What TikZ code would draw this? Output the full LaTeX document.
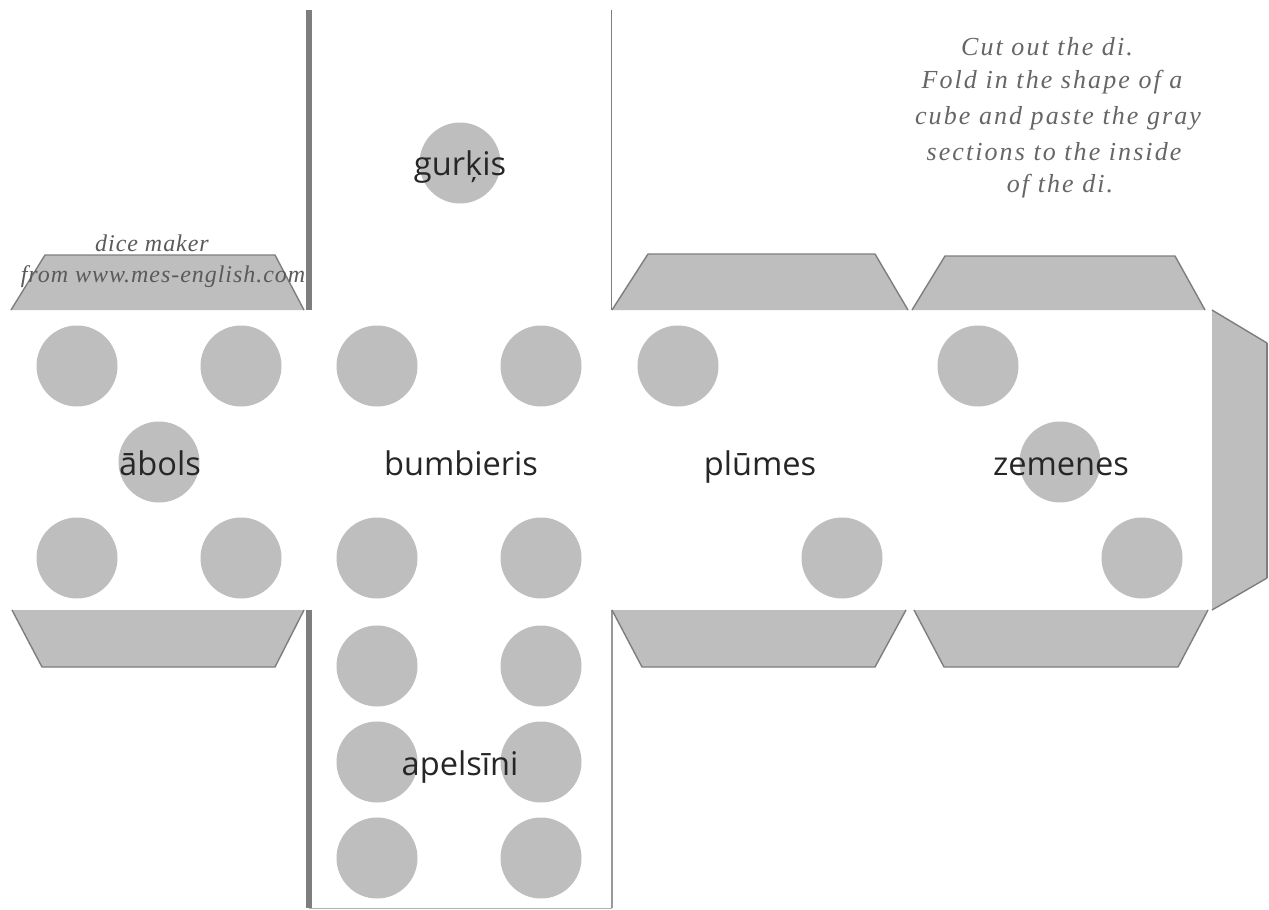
\documentclass[tikz,border=0pt]{standalone}
\usepackage{fontspec}
\setmainfont{Open Sans}
\newfontfamily\handfont[LetterSpace=8,Color=666666]{Liberation Serif}
\newfontfamily\handsmall[LetterSpace=4,Color=5A5A5A]{Liberation Serif}
\begin{document}
\begin{tikzpicture}[x=0.5pt,y=-0.5pt,
  flapfill/.style={fill=flapgray,draw=none},
  flapedge/.style={draw=edgegray,line width=0.7pt,line join=round},
  dot/.style={circle,fill=flapgray,draw=none,minimum size=40.5pt,inner sep=0pt,outer sep=0pt},
  cutthick/.style={draw=edgegray,line width=2.6pt},
  cutthin/.style={draw=edgegray,line width=0.8pt},
  facelabel/.style={text=black!85,font=\fontsize{16.3}{18}\selectfont,inner sep=0pt,anchor=base},
  hand/.style={font=\handfont\itshape\fontsize{13}{15}\selectfont,inner sep=0pt,anchor=center},
  handtight/.style={font=\handsmall\itshape\fontsize{12}{14}\selectfont,inner sep=0pt,anchor=center}]
\definecolor{flapgray}{HTML}{BEBEBE}
\definecolor{edgegray}{HTML}{7E7E7E}
\useasboundingbox (0,0) rectangle (1269,910);
\fill[white] (0,0) rectangle (1269,910);
% cut lines
\coordinate (tl) at (309,10); \coordinate (tlb) at (309,310);
\coordinate (tr) at (611.5,10); \coordinate (trb) at (611.5,310);
\coordinate (bl) at (309,610); \coordinate (blb) at (309,908);
\coordinate (br) at (612,610); \coordinate (brb) at (612,908);
\draw[cutthick] (tl) -- (tlb);
\draw[cutthin] (tr) -- (trb);
\draw[cutthick] (bl) -- (blb);
\draw[cutthin,draw=black!40] (br) -- (brb);
\draw[cutthin,draw=black!30,line width=0.5pt] (blb) -- (brb);
% flaps
\fill[flapfill] (11,310) -- (45,255) -- (275,255) -- (304,310) -- cycle;
\draw[flapedge] (11,310) -- (45,255) -- (275,255) -- (304,310);
\fill[flapfill] (612,310) -- (648,254) -- (875,254) -- (908,310) -- cycle;
\draw[flapedge] (612,310) -- (648,254) -- (875,254) -- (908,310);
\fill[flapfill] (912,310) -- (945,256) -- (1175,256) -- (1205,310) -- cycle;
\draw[flapedge] (912,310) -- (945,256) -- (1175,256) -- (1205,310);
\fill[flapfill] (1212,310) -- (1267,343) -- (1267,578) -- (1212,610) -- cycle;
\draw[flapedge] (1212,310) -- (1267,343);
\draw[flapedge,line width=1.3pt] (1267,343) -- (1267,578);
\draw[flapedge] (1267,578) -- (1212,610);
\fill[flapfill] (12,610) -- (42,667) -- (275,667) -- (304,610) -- cycle;
\draw[flapedge] (12,610) -- (42,667) -- (275,667) -- (304,610);
\fill[flapfill] (612,610) -- (642,667) -- (875,667) -- (906,610) -- cycle;
\draw[flapedge] (612,610) -- (642,667) -- (875,667) -- (906,610);
\fill[flapfill] (914,610) -- (944,667) -- (1178,667) -- (1208,610) -- cycle;
\draw[flapedge] (914,610) -- (944,667) -- (1178,667) -- (1208,610);
% pips
\foreach \n/\x/\y in {a/77/366,b/241/366,c/377/366,d/541/366,e/678/366,f/978/366,
  g/159/462,h/1060/462,i/77/558,j/241/558,k/377/558,l/541/558,m/842/558,o/1142/558,
  p/377/666,q/541/666,r/377/762,s/541/762,t/377/858,u/541/858,v/460/163}
  \node[dot] (pip\n) at (\x,\y) {};
% face labels
\node[facelabel] (gurkis) at (460,175) {gurķis};
\node[facelabel] (abols) at (160,475) {ābols};
\node[facelabel] (bumbieris) at (461,475) {bumbieris};
\node[facelabel] (plumes) at (760,475) {plūmes};
\node[facelabel] (zemenes) at (1061,475) {zemenes};
\node[facelabel] (apelsini) at (460,775) {apelsīni};
% handwritten notes
\node[hand] (n1) at (1047,47) {Cut out the di.};
\node[hand] (n2) at (1052,82) {Fold in the shape of a};
\node[hand] (n3) at (1058,118) {cube and paste the gray};
\node[hand] (n4) at (1054,152) {sections to the inside};
\node[hand] (n5) at (1060,186) {of the di.};
\node[handtight] (m1) at (152,243) {dice maker};
\node[handtight] (m2) at (163,277) {from www.mes-english.com};
\end{tikzpicture}
\end{document}
